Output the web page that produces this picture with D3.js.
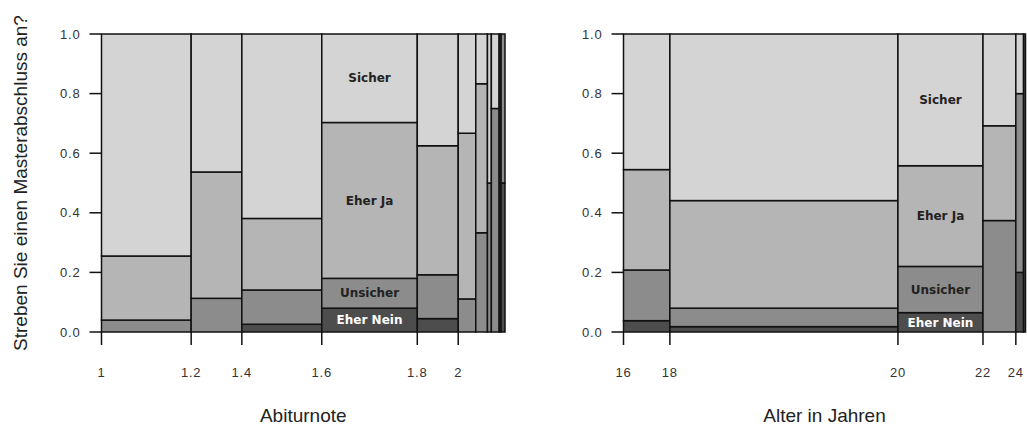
<!DOCTYPE html>
<html>
<head>
<meta charset="utf-8">
<script src="https://cdn.jsdelivr.net/npm/d3@7"></script>
<style>
  body { margin: 0; background: #fff; }
  svg { display: block; }
  .tick-label { font-family: "Liberation Sans", Arial, sans-serif; font-size: 13px; fill: #333; letter-spacing: 0.8px; }
  .axis-title { font-family: "Liberation Sans", Arial, sans-serif; font-size: 19px; fill: #222; }
  .seg-label { font-family: "DejaVu Sans", sans-serif; font-size: 12px; font-weight: bold; }
</style>
</head>
<body>
<svg width="1027" height="431"></svg>
<script>
// categories, bottom to top
const categories = ["Eher Nein", "Unsicher", "Eher Ja", "Sicher"];
const catColors = ["#4d4d4d", "#8c8c8c", "#b5b5b5", "#d4d4d4"];

// Abiturnote: bin breaks, counts per bin and shares per category
const abiBreaks = [1, 1.2, 1.4, 1.6, 1.8, 2, 2.2, 2.4, 2.6, 2.8, 3, 3.2];
const abiN = [46, 26, 41, 49, 21, 9, 6, 2, 4, 1, 2];
const abiEherNein = [0, 0, 0.026, 0.08, 0.045, 0, 0, 0, 0, 1, 0.5];
const abiUnsicher = [0.04, 0.113, 0.115, 0.10, 0.147, 0.111, 0.333, 0.5, 0.75, 0, 0.5];
const abiEherJa = [0.215, 0.424, 0.24, 0.523, 0.433, 0.556, 0.5, 0, 0, 0, 0];
const abiSicher = [0.745, 0.463, 0.619, 0.297, 0.375, 0.333, 0.167, 0.5, 0.25, 0, 0];
const abiTicks = [1, 1.2, 1.4, 1.6, 1.8, 2];

// Alter in Jahren
const alterBreaks = [16, 18, 20, 22, 24, 26, 28];
const alterN = [24, 118, 44, 17, 4, 1];
const alterEherNein = [0.038, 0.018, 0.065, 0, 0.2, 1];
const alterUnsicher = [0.17, 0.062, 0.155, 0.374, 0.6, 0];
const alterEherJa = [0.337, 0.361, 0.338, 0.318, 0, 0];
const alterSicher = [0.455, 0.559, 0.442, 0.308, 0.2, 0];
const alterTicks = [16, 18, 20, 22, 24];

const yTicks = [0, 0.2, 0.4, 0.6, 0.8, 1.0];

const svg = d3.select("svg");
const plotTop = 34, plotBottom = 332;

function drawPanel(p) {
  const total = d3.sum(p.n);
  const cum = [0].concat(Array.from(d3.cumsum(p.n)));
  const x = d3.scaleLinear().domain([0, total]).range([p.x0, p.x1]);
  const y = d3.scaleLinear().domain([0, 1]).range([plotBottom, plotTop]);

  // break value -> position
  const breakPos = v => x(cum[p.breaks.findIndex(b => Math.abs(b - v) < 1e-9)]);

  const g = svg.append("g");

  // stacked rectangles
  const rects = [];
  p.n.forEach((n, i) => {
    let acc = 0;
    p.shares.forEach((s, k) => {
      const v = s[i];
      if (v > 0) rects.push({ i: i, k: k, y0: acc, y1: acc + v });
      acc += v;
    });
  });

  g.selectAll("rect")
    .data(rects)
    .join("rect")
      .attr("x", d => x(cum[d.i]))
      .attr("width", d => x(cum[d.i + 1]) - x(cum[d.i]))
      .attr("y", d => y(d.y1))
      .attr("height", d => y(d.y0) - y(d.y1))
      .attr("fill", d => catColors[d.k])
      .attr("stroke", "#111")
      .attr("stroke-width", 1.5);

  // y axis
  const ya = svg.append("g");
  ya.selectAll("line")
    .data(yTicks)
    .join("line")
      .attr("x1", p.x0 - 12).attr("x2", p.x0)
      .attr("y1", d => y(d)).attr("y2", d => y(d))
      .attr("stroke", "#111").attr("stroke-width", 1.5);
  ya.selectAll("text")
    .data(yTicks)
    .join("text")
      .attr("class", "tick-label")
      .attr("x", p.x0 - 21)
      .attr("y", d => y(d))
      .attr("dy", "0.35em")
      .attr("text-anchor", "end")
      .text(d => d3.format(".1f")(d));

  // x axis
  const xa = svg.append("g");
  xa.selectAll("line")
    .data(p.ticks)
    .join("line")
      .attr("x1", d => breakPos(d)).attr("x2", d => breakPos(d))
      .attr("y1", plotBottom).attr("y2", plotBottom + 13)
      .attr("stroke", "#111").attr("stroke-width", 1.5);
  xa.selectAll("text")
    .data(p.ticks)
    .join("text")
      .attr("class", "tick-label")
      .attr("x", d => breakPos(d))
      .attr("y", 372)
      .attr("dy", "0.35em")
      .attr("text-anchor", "middle")
      .text(d => String(d));

  svg.append("text")
    .attr("class", "axis-title")
    .attr("x", (p.x0 + p.x1) / 2)
    .attr("y", 415)
    .attr("dy", "0.35em")
    .attr("text-anchor", "middle")
    .text(p.xTitle);

  // category labels in one bin
  const li = p.labelBin;
  const cx = (x(cum[li]) + x(cum[li + 1])) / 2;
  let acc = 0;
  categories.forEach((c, k) => {
    const v = p.shares[k][li];
    g.append("text")
      .attr("class", "seg-label")
      .attr("x", cx)
      .attr("y", y(acc + v / 2))
      .attr("dy", "0.35em")
      .attr("text-anchor", "middle")
      .attr("fill", k === 0 ? "#fff" : "#222")
      .text(c);
    acc += v;
  });
}

drawPanel({
  x0: 101.5, x1: 505,
  n: abiN, breaks: abiBreaks, ticks: abiTicks,
  shares: [abiEherNein, abiUnsicher, abiEherJa, abiSicher],
  labelBin: 3, xTitle: "Abiturnote"
});

drawPanel({
  x0: 623.5, x1: 1025.5,
  n: alterN, breaks: alterBreaks, ticks: alterTicks,
  shares: [alterEherNein, alterUnsicher, alterEherJa, alterSicher],
  labelBin: 2, xTitle: "Alter in Jahren"
});

// y axis title (left panel only)
svg.append("text")
  .attr("class", "axis-title")
  .attr("transform", `translate(20,${(plotTop + plotBottom) / 2}) rotate(-90)`)
  .attr("dy", "0.35em")
  .attr("text-anchor", "middle")
  .text("Streben Sie einen Masterabschluss an?");
</script>
</body>
</html>
